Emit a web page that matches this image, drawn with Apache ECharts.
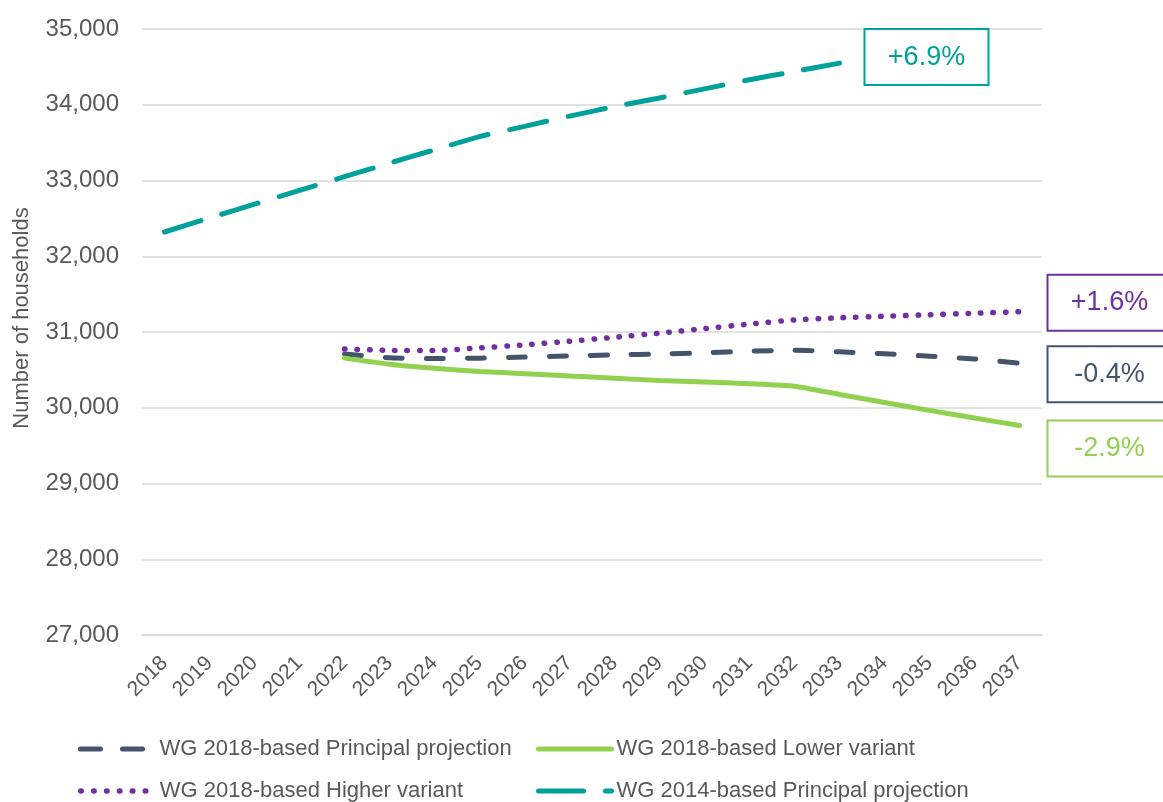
<!DOCTYPE html>
<html>
<head>
<meta charset="utf-8">
<title>Household projections</title>
<script src="https://cdn.jsdelivr.net/npm/echarts@6/dist/echarts.min.js"></script>
<style>
  html, body { margin: 0; padding: 0; background: #ffffff; }
  #chart { width: 1163px; height: 802px; }
</style>
</head>
<body>
<div id="chart"></div>
<script>
// Household projections, 2018 to 2037
const years = ['2018','2019','2020','2021','2022','2023','2024','2025','2026','2027',
               '2028','2029','2030','2031','2032','2033','2034','2035','2036','2037'];

const principal2018 = [null, null, null, null, 30710, 30660, 30650, 30655, 30670, 30683,
                       30697, 30710, 30725, 30748, 30758, 30738, 30712, 30680, 30645, 30587];
const lower2018     = [null, null, null, null, 30655, 30575, 30520, 30480, 30450, 30420,
                       30390, 30360, 30340, 30318, 30285, 30175, 30070, 29965, 29865, 29765];
const higher2018    = [null, null, null, null, 30776, 30758, 30755, 30790, 30830, 30878,
                       30930, 30985, 31045, 31105, 31160, 31188, 31208, 31228, 31248, 31268];
const principal2014 = [32320, 32505, 32688, 32870, 33050, 33230, 33405, 33580, 33715, 33850,
                       33975, 34090, 34210, 34330, 34440, 34550, null, null, null, null];

const seriesNames = ['WG 2018-based Principal projection', 'WG 2018-based Lower variant',
                     'WG 2018-based Higher variant', 'WG 2014-based Principal projection'];
const changeLabels = ['-0.4%', '-2.9%', '+1.6%', '+6.9%'];
const yTicks = [27000, 28000, 29000, 30000, 31000, 32000, 33000, 34000, 35000];

const FONT = '"Liberation Sans", Arial, sans-serif';
const GREY = '#595959';
const colors = ['#44546A', '#92D050', '#7030A0', '#00A19A'];
const dashes = [[17, 24], 'solid', [0.5, 12], [38, 22]];
const widths = [5, 5, 5.5, 5];

const chart = echarts.init(document.getElementById('chart'), null, { renderer: 'canvas' });

function lineSeries(i, data) {
  return {
    name: seriesNames[i],
    type: 'line',
    data: data,
    symbol: 'none',
    showSymbol: false,
    smooth: 0.2,
    silent: true,
    color: colors[i],
    lineStyle: { color: colors[i], width: widths[i], type: dashes[i], cap: 'round' }
  };
}

// One legend per entry so the four entries sit in a fixed 2 x 2 arrangement
function legendEntry(i, left, top, itemWidth, dash, textPad) {
  return {
    left: left, top: top,
    itemWidth: itemWidth, itemHeight: 14,
    data: [seriesNames[i]],
    itemStyle: { opacity: 0 },
    lineStyle: { color: colors[i], width: widths[i], type: dash, cap: 'round' },
    textStyle: { fontSize: 22, color: GREY, fontFamily: FONT, padding: [0, 0, 0, textPad] }
  };
}

chart.setOption({
  animation: false,
  backgroundColor: '#ffffff',
  textStyle: { fontFamily: FONT },
  grid: { left: 142, right: 121, top: 29, bottom: 167, containLabel: false },
  legend: [
    legendEntry(0, 73, 733, 66, [20, 22], 8),
    legendEntry(2, 73, 775, 66, [0.5, 12.4], 8),
    legendEntry(1, 531, 733, 73, 'solid', 0),
    legendEntry(3, 531, 775, 73, [45, 22], 0)
  ],
  xAxis: {
    type: 'category',
    data: years,
    boundaryGap: true,
    axisLine: { show: true, lineStyle: { color: '#D9D9D9', width: 1.5 } },
    axisTick: { show: false },
    axisLabel: { rotate: 45, fontSize: 21, color: GREY, fontFamily: FONT, margin: 25, interval: 0 }
  },
  yAxis: {
    type: 'value',
    min: yTicks[0],
    max: yTicks[yTicks.length - 1],
    interval: yTicks[1] - yTicks[0],
    name: 'Number of households',
    nameLocation: 'middle',
    nameGap: 109,
    nameTextStyle: { fontSize: 22, color: GREY, fontFamily: FONT, padding: [0, 0, 0, 28] },
    axisLine: { show: false },
    axisTick: { show: false },
    axisLabel: {
      fontSize: 24, color: GREY, fontFamily: FONT, margin: 23,
      formatter: v => v.toLocaleString('en-US')
    },
    splitLine: { lineStyle: { color: '#D9D9D9', width: 1.5 } }
  },
  series: [
    lineSeries(0, principal2018),
    lineSeries(1, lower2018),
    lineSeries(2, higher2018),
    lineSeries(3, principal2014)
  ]
});

// Percentage-change boxes placed beside the final point of each series
const seriesData = [principal2018, lower2018, higher2018, principal2014];
const boxOffsets = [[90, 11], [90, 23], [90, -9], [87, -6]];
const BOX_W = 124, BOX_H = 56;

const graphics = seriesData.map((data, i) => {
  let last = data.length - 1;
  while (data[last] == null) last--;
  const pt = chart.convertToPixel({ xAxisIndex: 0, yAxisIndex: 0 }, [last, data[last]]);
  const cx = pt[0] + boxOffsets[i][0];
  const cy = pt[1] + boxOffsets[i][1];
  return {
    type: 'group',
    x: cx - BOX_W / 2,
    y: cy - BOX_H / 2,
    z: 100,
    children: [
      {
        type: 'rect',
        shape: { x: 0, y: 0, width: BOX_W, height: BOX_H },
        style: { fill: '#ffffff', stroke: colors[i], lineWidth: 2 }
      },
      {
        type: 'text',
        x: BOX_W / 2,
        y: BOX_H / 2,
        style: {
          text: changeLabels[i],
          fill: colors[i],
          font: '27px ' + FONT,
          align: 'center',
          verticalAlign: 'middle'
        }
      }
    ]
  };
});

chart.setOption({ graphic: graphics });
</script>
</body>
</html>
